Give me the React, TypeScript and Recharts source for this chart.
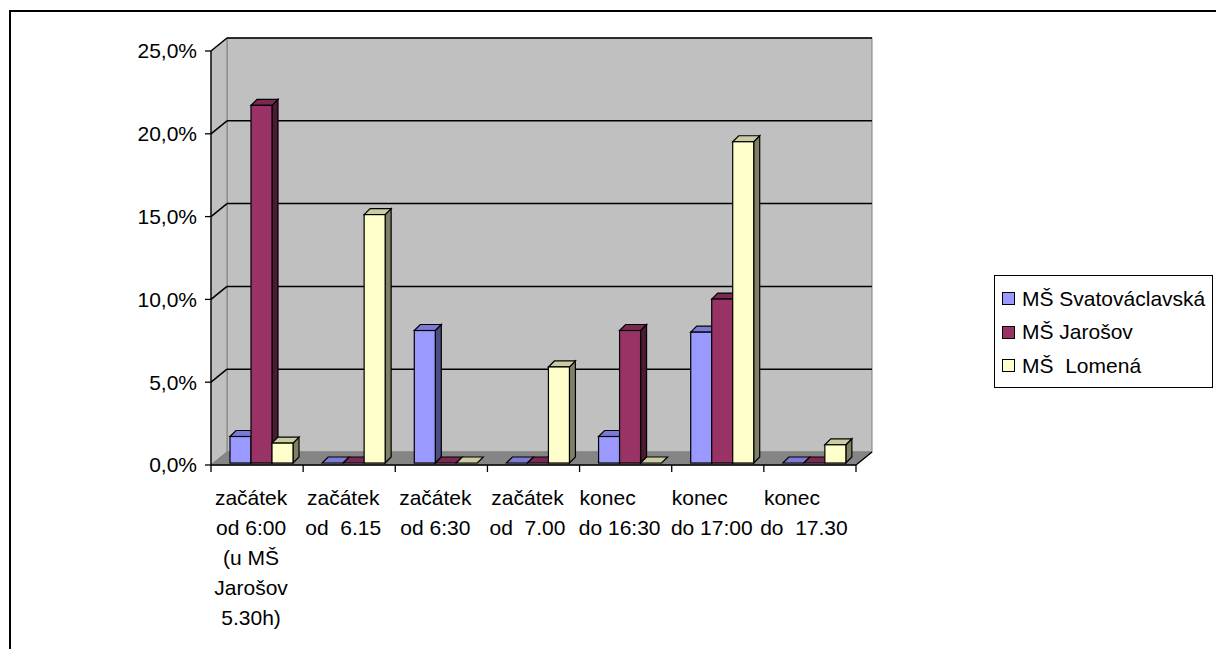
import * as R from 'recharts';

const { BarChart, Bar, XAxis, YAxis } = R;

const categories = [
  'začátek od 6:00 (u MŠ Jarošov 5.30h)',
  'začátek od 6.15',
  'začátek od 6:30',
  'začátek od 7.00',
  'konec do 16:30',
  'konec do 17:00',
  'konec do 17.30',
];

const categoryLines = [
  ['začátek', 'od 6:00', '(u MŠ', 'Jarošov', '5.30h)'],
  ['začátek', 'od  6.15'],
  ['začátek', 'od 6:30'],
  ['začátek', 'od  7.00'],
  ['konec', 'do 16:30'],
  ['konec', 'do 17:00'],
  ['konec', 'do  17.30'],
];

const seriesNames = ['MŠ Svatováclavská', 'MŠ Jarošov', 'MŠ  Lomená'];
const svatovaclavska = [0.016, 0, 0.08, 0, 0.016, 0.079, 0];
const jarosov = [0.216, 0, 0, 0, 0.08, 0.099, 0];
const lomena = [0.012, 0.15, 0, 0.058, 0, 0.194, 0.011];
const yTicks = [0, 0.05, 0.1, 0.15, 0.2, 0.25];

const data = categories.map((name, i) => ({
  name,
  a: svatovaclavska[i],
  b: jarosov[i],
  c: lomena[i],
}));

const FONT = '"Liberation Sans", Arial, sans-serif';
const FS = 21;
const W = 1216;
const H = 649;
const MARGIN = { top: 51, right: 360, bottom: 34, left: 151 };
const Y_AXIS_W = 60;
const X_AXIS_H = 150;
// depth of the 3D walls
const DX = 16;
const DY = 13;
// depth of the bars
const BD = 6;

const colors = [
  { front: '#9999FF', top: '#7B7BD6', side: '#4D4D80' },
  { front: '#993366', top: '#7A2952', side: '#4D1A33' },
  { front: '#FFFFCC', top: '#CCCCA3', side: '#808066' },
];

const fallbackArea = {
  x: MARGIN.left + Y_AXIS_W,
  y: MARGIN.top,
  width: W - MARGIN.left - Y_AXIS_W - MARGIN.right,
  height: H - MARGIN.top - MARGIN.bottom - X_AXIS_H,
};

function Walls() {
  const hook = (R as any).usePlotArea;
  const area = hook ? hook() : null;
  const p = area && area.width ? area : fallbackArea;
  const x0 = p.x;
  const x1 = p.x + p.width;
  const y0 = p.y;
  const y1 = p.y + p.height;
  const max = yTicks[yTicks.length - 1];
  const bw = p.width / categories.length;
  return (
    <g>
      {/* back wall */}
      <rect x={x0 + DX} y={y0 - DY} width={p.width} height={p.height} fill="#C0C0C0" stroke="#808080" />
      {/* side wall */}
      <polygon
        points={`${x0},${y0} ${x0 + DX},${y0 - DY} ${x0 + DX},${y1 - DY} ${x0},${y1}`}
        fill="#C0C0C0"
        stroke="#808080"
      />
      {/* floor */}
      <polygon
        points={`${x0},${y1} ${x1},${y1} ${x1 + DX},${y1 - DY} ${x0 + DX},${y1 - DY}`}
        fill="#858585"
        stroke="#808080"
      />
      {yTicks.slice(1).map((t) => {
        const y = y1 - (t / max) * p.height;
        return (
          <g key={t}>
            <line x1={x0} y1={y} x2={x0 + DX} y2={y - DY} stroke="#000" strokeWidth={1.5} />
            <line x1={x0 + DX} y1={y - DY} x2={x1 + DX} y2={y - DY} stroke="#000" strokeWidth={1.5} />
          </g>
        );
      })}
      <line x1={x1} y1={y1} x2={x1 + DX} y2={y1 - DY} stroke="#000" strokeWidth={1.3} />
      {categories.concat(['']).map((_, i) => (
        <line key={i} x1={x0 + i * bw} y1={y1} x2={x0 + i * bw} y2={y1 + 7} stroke="#000" strokeWidth={1.3} />
      ))}
    </g>
  );
}

function make3D(c: { front: string; top: string; side: string }) {
  return (props: any) => {
    const { x, y, width, height } = props;
    if (x == null || y == null) return <g />;
    const sx = x + 4;
    const base = y + height - 2;
    const t = y - 2;
    const topFace = `${sx},${t} ${sx + BD},${t - BD} ${sx + width + BD},${t - BD} ${sx + width},${t}`;
    if (height < 0.5) {
      return <polygon points={topFace} fill={c.top} stroke="#000" strokeWidth={1.2} />;
    }
    return (
      <g>
        <polygon
          points={`${sx + width},${t} ${sx + width + BD},${t - BD} ${sx + width + BD},${base - BD} ${sx + width},${base}`}
          fill={c.side}
          stroke="#000"
          strokeWidth={1.2}
        />
        <polygon points={topFace} fill={c.top} stroke="#000" strokeWidth={1.2} />
        <rect x={sx} y={t} width={width} height={base - t} fill={c.front} stroke="#000" strokeWidth={1.2} />
      </g>
    );
  };
}

function CategoryTick(props: any) {
  const { x, y, payload } = props;
  const lines = categoryLines[payload.index] || [payload.value];
  const cx = x - 6;
  return (
    <text x={cx} y={y + 38} textAnchor="middle" fontSize={FS} fontFamily={FONT} fill="#000" style={{ whiteSpace: 'pre' }}>
      {lines.map((l: string, i: number) => (
        <tspan key={i} x={i === 0 && l === 'konec' ? cx - 12 : cx} dy={i === 0 ? 0 : 30}>
          {l}
        </tspan>
      ))}
    </text>
  );
}

const fmt = (v: number) => (v * 100).toFixed(1).replace('.', ',') + '%';

function Legend3D() {
  return (
    <div
      style={{
        position: 'absolute',
        left: 994,
        top: 275,
        width: 219,
        height: 113,
        border: '1.5px solid #000',
        background: '#fff',
        fontFamily: FONT,
        fontSize: FS,
        boxSizing: 'border-box',
        paddingTop: 6,
      }}
    >
      {seriesNames.map((n, i) => (
        <div key={n} style={{ display: 'flex', alignItems: 'center', height: 33.5, whiteSpace: 'pre' }}>
          <span
            style={{
              display: 'inline-block',
              width: 11,
              height: 11,
              marginLeft: 7,
              marginRight: 7,
              background: colors[i].front,
              border: '1px solid #000',
            }}
          />
          <span>{n}</span>
        </div>
      ))}
    </div>
  );
}

export default function App() {
  return (
    <div style={{ position: 'fixed', left: 0, top: 0, width: W, height: H, background: '#fff', overflow: 'hidden' }}>
      <div
        style={{
          position: 'absolute',
          left: 9,
          top: 10,
          width: 1300,
          height: 800,
          border: '2px solid #000',
        }}
      />
      <div style={{ position: 'absolute', left: 0, top: 0 }}>
        <BarChart width={W} height={H} data={data} margin={MARGIN} barCategoryGap={15} barGap={0}>
          <Walls />
          <XAxis
            dataKey="name"
            height={X_AXIS_H}
            tickLine={false}
            tickSize={0}
            axisLine={{ stroke: '#000', strokeWidth: 1.3 }}
            tick={<CategoryTick />}
            interval={0}
          />
          <YAxis
            width={Y_AXIS_W}
            domain={[0, 0.25]}
            ticks={yTicks}
            tickFormatter={fmt}
            tickSize={6}
            tickMargin={8}
            axisLine={{ stroke: '#000', strokeWidth: 1.3 }}
            tickLine={{ stroke: '#000', strokeWidth: 1.3 }}
            tick={{ fill: '#000', fontSize: FS, fontFamily: FONT }}
          />
          <Bar dataKey="a" name={seriesNames[0]} shape={make3D(colors[0])} isAnimationActive={false} />
          <Bar dataKey="b" name={seriesNames[1]} shape={make3D(colors[1])} isAnimationActive={false} />
          <Bar dataKey="c" name={seriesNames[2]} shape={make3D(colors[2])} isAnimationActive={false} />
        </BarChart>
      </div>
      <Legend3D />
    </div>
  );
}
